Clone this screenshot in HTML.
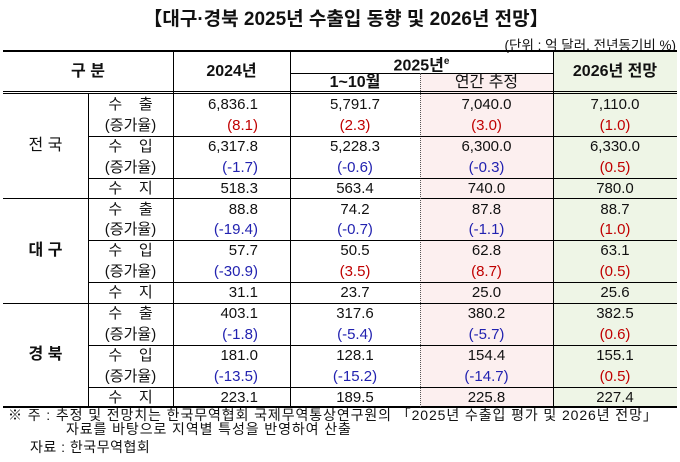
<!DOCTYPE html>
<html><head><meta charset="utf-8"><style>
body{margin:0;width:680px;height:462px;background:#fff;position:relative;overflow:hidden;font-family:"Liberation Sans","Noto Sans CJK KR","NanumGothic",sans-serif;color:#111}
.a{position:absolute}
.t{position:absolute;white-space:nowrap;line-height:21px;height:21px;font-size:15px}
.h{position:absolute;background:#000}
.v{position:absolute;background:#000;width:1px}
.r{color:#c00000}.b{color:#2222b0}
</style></head><body>
<div class="a" style="left:0;width:692px;top:4px;text-align:center;font-size:19px;font-weight:bold">【대구·경북 2025년 수출입 동향 및 2026년 전망】</div>
<div class="a" style="right:4px;top:34px;font-size:13.5px">(단위 : 억 달러, 전년동기비 %)</div>
<div class="a" style="left:420px;top:73px;width:133px;height:334px;background:#fcefef"></div>
<div class="a" style="left:553px;top:51px;width:124px;height:356px;background:#eef5e6"></div>
<div class="h" style="left:3px;width:674px;top:50px;height:2px"></div>
<div class="h" style="left:290px;width:263px;top:73px;height:1px"></div>
<div class="h" style="left:3px;width:674px;top:91px;height:1px"></div>
<div class="h" style="left:3px;width:674px;top:93px;height:1px"></div>
<div class="h" style="left:3px;width:674px;top:198px;height:1px"></div>
<div class="h" style="left:3px;width:674px;top:303px;height:1px"></div>
<div class="h" style="left:3px;width:674px;top:406px;height:2px"></div>
<div class="v" style="left:88px;top:93px;height:314px"></div>
<div class="v" style="left:173px;top:51px;height:356px"></div>
<div class="v" style="left:290px;top:51px;height:356px"></div>
<div class="a" style="left:420px;top:73px;height:334px;border-left:1px dotted #555"></div>
<div class="v" style="left:553px;top:51px;height:356px"></div>
<div class="a" style="left:3px;top:51px;width:170px;line-height:42px;text-align:center;font-weight:bold;font-size:16px">구 분</div>
<div class="a" style="left:173px;top:51px;width:117px;line-height:42px;text-align:center;font-weight:bold;font-size:16px">2024년</div>
<div class="a" style="left:290px;top:51px;width:263px;line-height:22px;text-align:center;font-weight:bold;font-size:16px">2025년<sup style="font-size:10px">e</sup></div>
<div class="a" style="left:290px;top:73px;width:130px;line-height:20px;text-align:center;font-weight:bold;font-size:16px">1~10월</div>
<div class="a" style="left:420px;top:73px;width:133px;line-height:20px;text-align:center;font-size:16px">연간 추정</div>
<div class="a" style="left:553px;top:51px;width:124px;line-height:42px;text-align:center;font-weight:bold;font-size:16px">2026년 전망</div>
<div id="rows"></div>
<div class="a" style="left:3px;top:93px;width:85px;line-height:105px;text-align:center;font-size:16px">전 국</div>
<div class="a" style="left:3px;top:198px;width:85px;line-height:105px;text-align:center;font-size:16px;font-weight:bold">대 구</div>
<div class="a" style="left:3px;top:303px;width:85px;line-height:104px;text-align:center;font-size:16px;font-weight:bold">경 북</div>
<div class="a" style="left:8px;top:408px;font-size:14px;line-height:14px;letter-spacing:0.9px;white-space:nowrap">※ 주 : 추정 및 전망치는 한국무역협회 국제무역통상연구원의 「2025년 수출입 평가 및 2026년 전망」<br><span style="padding-left:58px">자료를 바탕으로 지역별 특성을 반영하여 산출</span></div>
<div class="a" style="left:30px;top:437px;font-size:14px;letter-spacing:0.5px">자료 : 한국무역협회</div>
<script>
var d=[
["수&nbsp;&nbsp;&nbsp;&nbsp;출","6,836.1","5,791.7","7,040.0","7,110.0",""],
["(증가율)","(8.1)","(2.3)","(3.0)","(1.0)","rrrr"],
["수&nbsp;&nbsp;&nbsp;&nbsp;입","6,317.8","5,228.3","6,300.0","6,330.0",""],
["(증가율)","(-1.7)","(-0.6)","(-0.3)","(0.5)","bbbr"],
["수&nbsp;&nbsp;&nbsp;&nbsp;지","518.3","563.4","740.0","780.0",""],
["수&nbsp;&nbsp;&nbsp;&nbsp;출","88.8","74.2","87.8","88.7",""],
["(증가율)","(-19.4)","(-0.7)","(-1.1)","(1.0)","bbbr"],
["수&nbsp;&nbsp;&nbsp;&nbsp;입","57.7","50.5","62.8","63.1",""],
["(증가율)","(-30.9)","(3.5)","(8.7)","(0.5)","brrr"],
["수&nbsp;&nbsp;&nbsp;&nbsp;지","31.1","23.7","25.0","25.6",""],
["수&nbsp;&nbsp;&nbsp;&nbsp;출","403.1","317.6","380.2","382.5",""],
["(증가율)","(-1.8)","(-5.4)","(-5.7)","(0.6)","bbbr"],
["수&nbsp;&nbsp;&nbsp;&nbsp;입","181.0","128.1","154.4","155.1",""],
["(증가율)","(-13.5)","(-15.2)","(-14.7)","(0.5)","bbbr"],
["수&nbsp;&nbsp;&nbsp;&nbsp;지","223.1","189.5","225.8","227.4",""]];
var h="";
for(var i=0;i<15;i++){
 var y=94+i*20.9;var r=d[i];var c=r[5];
 function cl(k){return c?(c[k]=='r'?'r':'b'):''}
 h+='<div class="t" style="left:88px;width:85px;text-align:center;top:'+y+'px">'+r[0]+'</div>';
 h+='<div class="t '+cl(0)+'" style="left:173px;width:85px;text-align:right;top:'+y+'px">'+r[1]+'</div>';
 h+='<div class="t '+cl(1)+'" style="left:290px;width:130px;text-align:center;top:'+y+'px">'+r[2]+'</div>';
 h+='<div class="t '+cl(2)+'" style="left:420px;width:133px;text-align:center;top:'+y+'px">'+r[3]+'</div>';
 h+='<div class="t '+cl(3)+'" style="left:553px;width:124px;text-align:center;top:'+y+'px">'+r[4]+'</div>';
 var m=i%5;
 if(m==1||m==3){h+='<div class="h" style="left:88px;width:589px;height:1px;top:'+Math.round(94+(i+1)*20.9)+'px"></div>';}
}
document.getElementById('rows').innerHTML=h;
</script>
</body></html>
